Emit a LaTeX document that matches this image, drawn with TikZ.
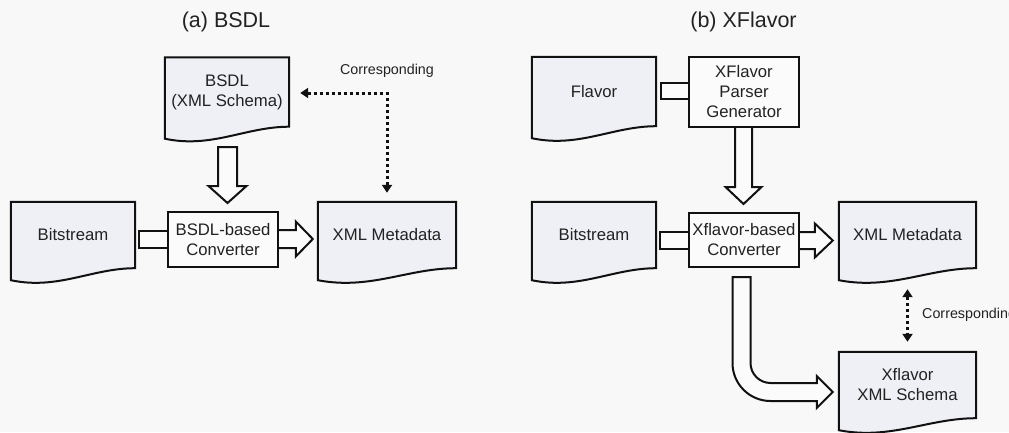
\documentclass[tikz,border=0pt]{standalone}
\usepackage{fontspec}
\setmainfont{Liberation Sans}
\usetikzlibrary{calc,arrows.meta}

\pgfdeclarelayer{back}
\pgfdeclarelayer{shapes}
\pgfsetlayers{back,shapes,main}

\definecolor{paper}{HTML}{F8F8F8}
\definecolor{docfill}{HTML}{EEF0F5}
\definecolor{boxfill}{HTML}{FBFBFB}
\definecolor{ink}{HTML}{111111}
\definecolor{txt}{HTML}{222222}

\newcommand\nodefnt{\fontsize{16.7}{20}\selectfont}
\newcommand\titlefnt{\fontsize{21.5}{24}\selectfont}
\newcommand\notefnt{\fontsize{14.3}{17}\selectfont}

% document symbol (wavy bottom edge) drawn behind a named node
\newcommand\docoutline[1]{%
  \begin{pgfonlayer}{shapes}
    \path[docline] (#1.north west) -- (#1.north east) -- (#1.south east)
      .. controls ($(#1.south east)!0.35!(#1.south west)$)
             and ($(#1.south east)!0.62!(#1.south west)+(0,22)$)
      .. ($(#1.south west)+(0,12)$) -- cycle;
  \end{pgfonlayer}}

\tikzset{
  docline/.style={draw=ink, line width=2pt, fill=docfill, line join=miter},
  doc/.style={minimum width=124pt, minimum height=66pt, inner sep=0pt,
    align=center, font=\nodefnt, text=txt},
  procbox/.style={draw=ink, line width=2pt, fill=boxfill, inner sep=0pt,
    align=center, font=\nodefnt, text=txt},
  blockarrow/.style={draw=ink, line width=2pt, fill=boxfill, line join=miter},
  dotlink/.style={draw=ink, line width=3pt, dash pattern=on 3pt off 3pt,
    {Triangle[length=8pt,width=10pt]}-{Triangle[length=8pt,width=10pt]}},
  heading/.style={font=\titlefnt, text=txt},
  note/.style={font=\notefnt, text=txt}
}

\begin{document}
\begin{tikzpicture}[x=1pt, y=-1pt]
  \useasboundingbox (0,0) rectangle (1009,432);
  \begin{pgfonlayer}{back}
    \fill[paper] (0,0) rectangle (1009,432);
  \end{pgfonlayer}
  \clip (0,0) rectangle (1009,432);

  % ---------- (a) BSDL ----------
  \node[heading] (ta) at (226,22) {(a) BSDL};
  \node[doc, minimum height=69pt] (bsdl) at (227,92) {BSDL\\(XML Schema)};
  \node[doc] (bits1) at (73,235) {Bitstream};
  \node[procbox, minimum width=110pt, minimum height=55pt] (conv1) at (223,239.5) {BSDL-based\\Converter};
  \node[doc, minimum width=138pt] (xml1) at (387,235) {XML Metadata};
  \node[note] (cor1) at (387,71) {Corresponding};

  \docoutline{bsdl}
  \docoutline{bits1}
  \docoutline{xml1}

  % schema into converter
  \coordinate (d1s) at ($(bsdl.south)+(0.5,20.5)$);
  \coordinate (d1t) at ($(d1s |- conv1.north)+(0,-8)$);
  \draw[blockarrow] ($(d1s)+(-9.5,0)$) -- ($(d1s)+(9.5,0)$) -- ($(d1t)+(9.5,-17)$)
    -- ($(d1t)+(19,-17)$) -- (d1t) -- ($(d1t)+(-19,-17)$) -- ($(d1t)+(-9.5,-17)$) -- cycle;

  % bitstream into converter
  \draw[blockarrow] ($(conv1.west)+(0,-8.5)$) -- ($(conv1.west)+(-28,-8.5)$)
    -- ($(conv1.west)+(-28,8.5)$) -- ($(conv1.west)+(0,8.5)$);

  % converter to metadata
  \coordinate (o1s) at ($(conv1.east)+(0,-0.5)$);
  \coordinate (o1t) at ($(xml1.west |- o1s)+(-5,0)$);
  \draw[blockarrow] ($(o1s)+(0,-9)$) -- ($(o1t)+(-17,-9)$) -- ($(o1t)+(-17,-17.5)$)
    -- (o1t) -- ($(o1t)+(-17,17.5)$) -- ($(o1t)+(-17,9)$) -- ($(o1s)+(0,9)$);

  % correspondence
  \draw[dotlink] ($(bsdl.east)+(11,1)$) -- ($(xml1.north |- bsdl.east)+(0,1)$)
    -- ($(xml1.north)+(0,-9)$);

  % ---------- (b) XFlavor ----------
  \node[heading] (tb) at (743.5,22) {(b) XFlavor};
  \node[doc, minimum height=69pt] (flavor) at (594,91.5) {Flavor};
  \node[procbox, minimum width=110pt, minimum height=70pt] (gen) at (744,92) {XFlavor\\Parser\\Generator};
  \node[doc] (bits2) at (594,235) {Bitstream};
  \node[procbox, minimum width=110pt, minimum height=54pt] (conv2) at (744,240) {Xflavor-based\\Converter};
  \node[doc, minimum width=137pt] (xml2) at (907.5,235) {XML Metadata};
  \node[doc, minimum width=137pt] (schema) at (907.5,385) {Xflavor\\XML Schema};
  \node[note, anchor=west, inner sep=0pt] (cor2) at (922,315) {Corresponding};

  \docoutline{flavor}
  \docoutline{bits2}
  \docoutline{xml2}
  \docoutline{schema}

  % flavor into generator
  \draw[blockarrow] ($(gen.west)+(0,-9)$) -- ($(gen.west)+(-27,-9)$)
    -- ($(gen.west)+(-27,7)$) -- ($(gen.west)+(0,7)$);

  % generator to converter
  \coordinate (d2s) at ($(gen.south)+(-0.5,0)$);
  \coordinate (d2t) at ($(d2s |- conv2.north)+(0,-8)$);
  \draw[blockarrow] ($(d2s)+(-8.5,0)$) -- ($(d2t)+(-8.5,-17)$) -- ($(d2t)+(-18,-17)$)
    -- (d2t) -- ($(d2t)+(18,-17)$) -- ($(d2t)+(8.5,-17)$) -- ($(d2s)+(8.5,0)$);

  % bitstream into converter
  \draw[blockarrow] ($(conv2.west)+(0,-8)$) -- ($(conv2.west)+(-28,-8)$)
    -- ($(conv2.west)+(-28,9)$) -- ($(conv2.west)+(0,9)$);

  % converter to metadata
  \coordinate (o2s) at ($(conv2.east)+(0,0.5)$);
  \coordinate (o2t) at ($(xml2.west |- o2s)+(-6,0)$);
  \draw[blockarrow] ($(o2s)+(0,-8.5)$) -- ($(o2t)+(-18,-8.5)$) -- ($(o2t)+(-18,-17)$)
    -- (o2t) -- ($(o2t)+(-18,17)$) -- ($(o2t)+(-18,8.5)$) -- ($(o2s)+(0,8.5)$);

  % converter to schema (bent arrow)
  \coordinate (c0) at ($(conv2.south)+(-2.5,9)$);
  \coordinate (ct) at ($(schema.west)+(-6,7)$);
  \coordinate (k) at (c0 |- ct);
  \draw[blockarrow] ($(c0)+(-9,0)$) -- ($(c0)+(9,0)$) -- ($(k)+(9,-29)$)
    .. controls ($(k)+(9,-18)$) and ($(k)+(18,-9)$) .. ($(k)+(29,-9)$)
    -- ($(ct)+(-16,-9)$) -- ($(ct)+(-16,-16)$) -- (ct) -- ($(ct)+(-16,16)$)
    -- ($(ct)+(-16,9)$) -- ($(k)+(29,9)$)
    .. controls ($(k)+(8,9)$) and ($(k)+(-9,-8)$) .. ($(k)+(-9,-29)$) -- cycle;

  % correspondence
  \draw[dotlink] ($(xml2.south)+(0,21)$) -- ($(schema.north)+(0,-10)$);
\end{tikzpicture}
\end{document}
